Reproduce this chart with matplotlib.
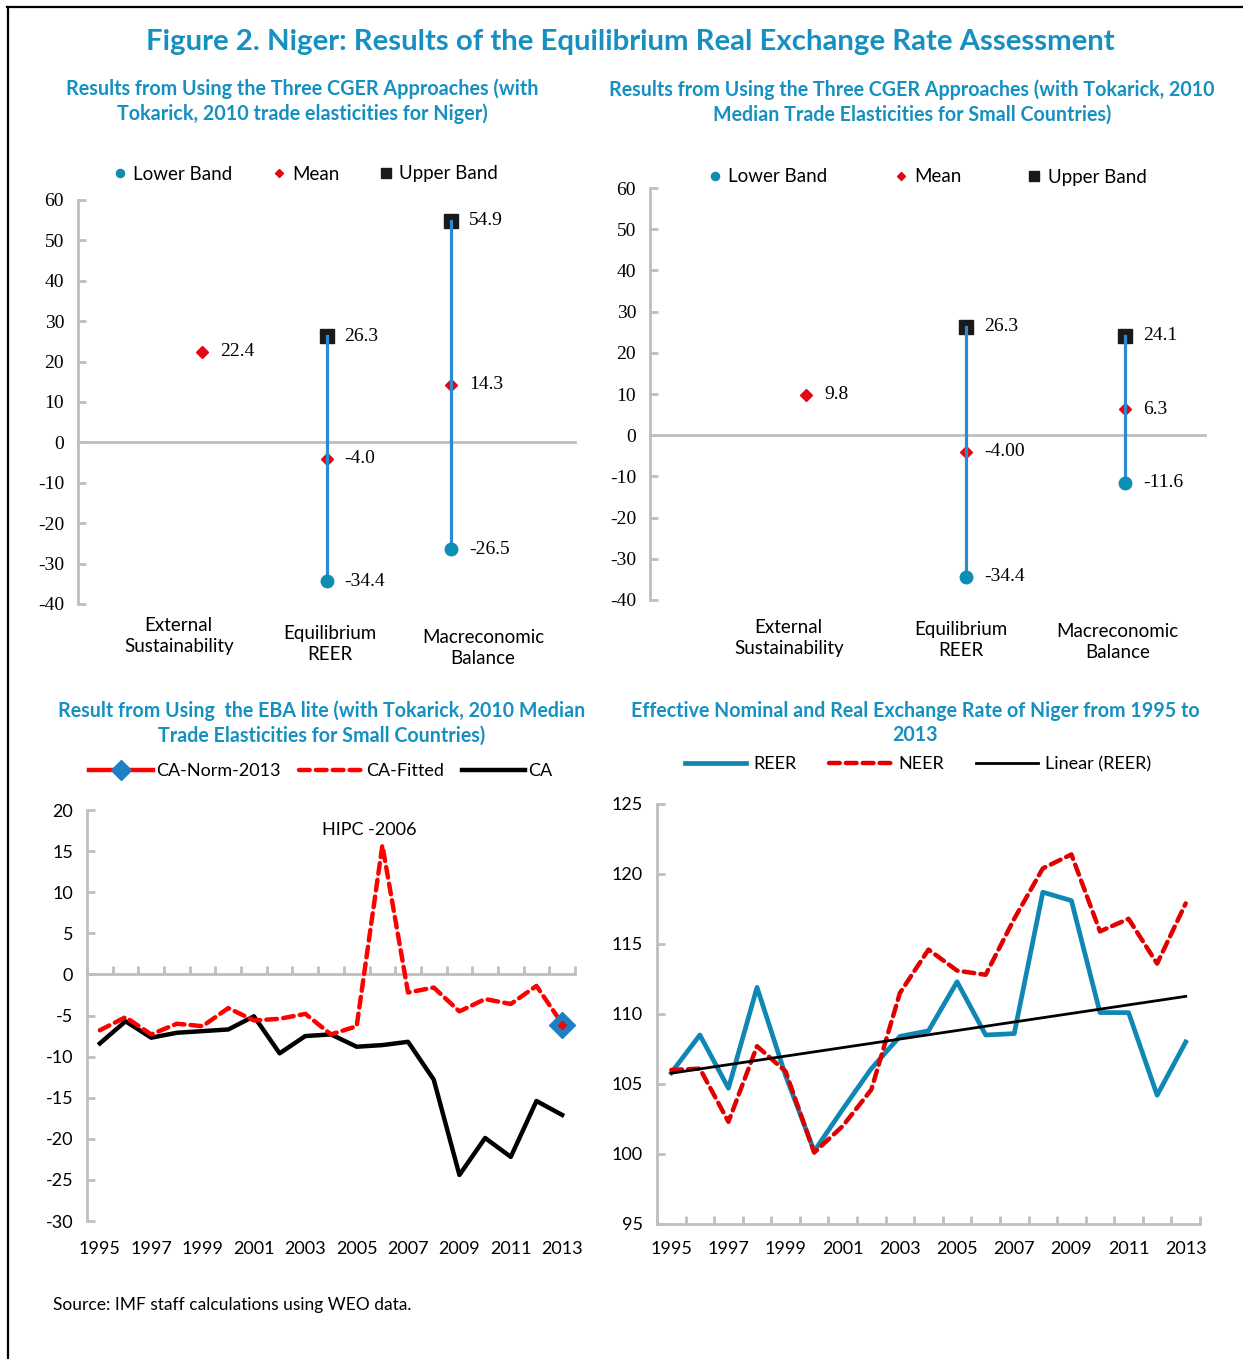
import numpy as np
import matplotlib.pyplot as plt
from matplotlib.lines import Line2D

# ---- data ----
categories = ['External\nSustainability', 'Equilibrium\nREER', 'Macreconomic\nBalance']

# panel 1: CGER with Tokarick (2010) elasticities for Niger
p1_lower = [np.nan, -34.4, -26.5]
p1_mean = [22.4, -4.0, 14.3]
p1_upper = [np.nan, 26.3, 54.9]
p1_mean_txt = ['22.4', '-4.0', '14.3']

# panel 2: CGER with median elasticities for small countries
p2_lower = [np.nan, -34.4, -11.6]
p2_mean = [9.8, -4.00, 6.3]
p2_upper = [np.nan, 26.3, 24.1]
p2_mean_txt = ['9.8', '-4.00', '6.3']

years = list(range(1995, 2014))

# panel 3: EBA lite
ca = [-8.4, -5.7, -7.7, -7.1, -6.9, -6.7, -5.1, -9.6, -7.5, -7.3,
      -8.8, -8.6, -8.2, -12.8, -24.4, -19.9, -22.2, -15.4, -17.1]
ca_fitted = [-6.8, -5.2, -7.3, -6.0, -6.3, -4.1, -5.6, -5.4, -4.8, -7.3,
             -6.3, 15.7, -2.2, -1.6, -4.5, -3.0, -3.6, -1.4, -6.0]
ca_norm_year = 2013
ca_norm = -6.2

# panel 4: NEER / REER
reer = [105.8, 108.5, 104.7, 111.9, 105.6, 100.2, 103.2, 106.1, 108.4, 108.8,
        112.3, 108.5, 108.6, 118.7, 118.1, 110.1, 110.1, 104.2, 108.0]
neer = [106.0, 106.1, 102.3, 107.7, 105.9, 100.1, 102.0, 104.6, 111.5, 114.6,
        113.1, 112.8, 116.8, 120.4, 121.4, 115.9, 116.8, 113.6, 117.9]

TITLE = '#1690C0'
GRID = '#BFBFBF'
BAND = '#2B8AD2'
LOWC = '#0E8DB3'
RED = '#E30613'

W, H = 1243, 1359
fig = plt.figure(figsize=(W / 100, H / 100), dpi=100)
plt.rcParams['font.family'] = ['Lato', 'DejaVu Sans']
plt.rcParams['axes.unicode_minus'] = False


def box(l, r, t, b):
    return [l / W, 1 - b / H, (r - l) / W, (b - t) / H]


def style_axis(ax):
    for s in ['top', 'right']:
        ax.spines[s].set_visible(False)
    for s in ['left', 'bottom']:
        ax.spines[s].set_color(GRID)
        ax.spines[s].set_linewidth(2)
    ax.tick_params(axis='y', direction='in', length=6, width=2, color=GRID,
                   labelsize=13, pad=10)


def band_panel(ax, lower, mean, upper, mean_txt, xlim):
    x = np.arange(len(categories))
    style_axis(ax)
    ax.spines['bottom'].set_position(('data', 0))
    ax.tick_params(axis='x', length=0, labelbottom=False)
    ax.set_xlim(*xlim)
    ax.set_ylim(-40, 60)
    ax.set_yticks(range(-40, 61, 10))
    for lab in ax.get_yticklabels():
        lab.set_family('Liberation Serif')
        lab.set_fontsize(14)
    for i in x:
        if not np.isnan(lower[i]):
            ax.plot([i, i], [lower[i], upper[i]], color=BAND, lw=2.3, zorder=4)
    ax.plot(x, lower, 'o', color=LOWC, ms=9, ls='none', zorder=5, label='Lower Band')
    ax.plot(x, mean, 'D', color=RED, ms=6, ls='none', zorder=3, label='Mean')
    ax.plot(x, upper, 's', color='#1A1A1A', ms=10, ls='none', zorder=3, label='Upper Band')
    serif = dict(family='Liberation Serif', fontsize=14, va='center', ha='left',
                 textcoords='offset points')
    for i in x:
        ax.annotate(mean_txt[i], (i, mean[i]), xytext=(13, 0), **serif)
        if not np.isnan(lower[i]):
            ax.annotate(f'{lower[i]:.1f}', (i, lower[i]), xytext=(13, 0), **serif)
            ax.annotate(f'{upper[i]:.1f}', (i, upper[i]), xytext=(13, 0), **serif)


# ---- panel 1 ----
ax1 = fig.add_axes(box(78, 575, 200, 604))
band_panel(ax1, p1_lower, p1_mean, p1_upper, p1_mean_txt, (-1, 3))
for xc, yc, lab in zip([-0.19, 1.03, 2.26], [-0.079, -0.099, -0.109], categories):
    ax1.text(xc, yc, lab, transform=ax1.get_xaxis_transform(), ha='center',
             va='center', fontsize=13.5, linespacing=1.3)
ax1.legend(loc='center', bbox_to_anchor=(306 / W, 1 - 174 / H), bbox_transform=fig.transFigure,
           ncol=3, frameon=False, fontsize=13.5, markerscale=0.65, handlelength=0.6,
           handletextpad=0.4, columnspacing=2.2)
fig.text(302 / W, 1 - 101 / H,
         'Results from Using the Three CGER Approaches (with\nTokarick, 2010 trade elasticities for Niger)',
         ha='center', va='center', fontsize=14.2, fontweight='bold', color=TITLE, linespacing=1.25)

# ---- panel 2 ----
ax2 = fig.add_axes(box(650, 1205, 188, 600))
band_panel(ax2, p2_lower, p2_mean, p2_upper, p2_mean_txt, (-0.98, 2.5))
for xc, yc, lab in zip([-0.11, 0.97, 1.95], [-0.092, -0.097, -0.102], categories):
    ax2.text(xc, yc, lab, transform=ax2.get_xaxis_transform(), ha='center',
             va='center', fontsize=13.5, linespacing=1.3)
ax2.legend(loc='center', bbox_to_anchor=(928 / W, 1 - 177 / H), bbox_transform=fig.transFigure,
           ncol=3, frameon=False, fontsize=13.5, markerscale=0.65, handlelength=0.6,
           handletextpad=0.4, columnspacing=3.6)
fig.text(912 / W, 1 - 102 / H,
         'Results from Using the Three CGER Approaches (with Tokarick, 2010\nMedian Trade Elasticities for Small Countries)',
         ha='center', va='center', fontsize=14.1, fontweight='bold', color=TITLE, linespacing=1.25)

# ---- panel 3 ----
ax3 = fig.add_axes(box(87, 575, 810, 1221))
style_axis(ax3)
ax3.spines['bottom'].set_position(('data', 0))
ax3.plot(years, ca, color='black', lw=3.2, label='CA', zorder=3)
ax3.plot(years, ca_fitted, color='#FF0000', lw=3.2, ls=(0, (2.4, 1.4)), label='CA-Fitted',
         zorder=4, dash_capstyle='round')
ax3.plot([ca_norm_year], [ca_norm], color='#FF0000', lw=3.2, marker='D', ms=13,
         mfc='#1F7FC4', mec='#1F7FC4', label='CA-Norm-2013', zorder=5)
ax3.plot([ca_norm_year], [ca_norm], 'D', color='#FF0000', ms=4, zorder=6)
ax3.set_xlim(1994.5, 2013.5)
ax3.set_ylim(-30, 20)
ax3.set_yticks(range(-30, 21, 5))
ax3.set_xticks([])
ax3.set_xticks(np.arange(1994.5, 2014, 1), minor=True)
ax3.tick_params(axis='x', which='minor', direction='in', length=6, width=2, color=GRID)
for yr in years[::2]:
    ax3.text(yr, -0.068, str(yr), transform=ax3.get_xaxis_transform(),
             ha='center', va='center', fontsize=13)
ax3.text(2005.5, 17.6, 'HIPC -2006', ha='center', va='center', fontsize=13)
h3, l3 = ax3.get_legend_handles_labels()
ax3.legend(h3[::-1], l3[::-1], loc='center', bbox_to_anchor=(321 / W, 1 - 771 / H),
           bbox_transform=fig.transFigure, ncol=3, frameon=False, fontsize=13,
           handlelength=3.5, handletextpad=0.2, columnspacing=1.0, markerscale=0.75)
fig.text(322 / W, 1 - 723 / H,
         'Result from Using  the EBA lite (with Tokarick, 2010 Median\nTrade Elasticities for Small Countries)',
         ha='center', va='center', fontsize=14.1, fontweight='bold', color=TITLE, linespacing=1.25)

# ---- panel 4 ----
ax4 = fig.add_axes(box(657, 1200, 804, 1224))
style_axis(ax4)
trend = np.polyval(np.polyfit(years, reer, 1), years)
ax4.plot(years, reer, color='#0F87B5', lw=3.4, label='REER', zorder=3)
ax4.plot(years, neer, color='#E00000', lw=3.2, ls=(0, (2.4, 1.4)), label='NEER', zorder=4,
         dash_capstyle='round')
ax4.plot(years, trend, color='black', lw=2, label='Linear (REER)', zorder=5)
ax4.set_xlim(1994.5, 2013.5)
ax4.set_ylim(95, 125)
ax4.set_yticks(range(95, 126, 5))
ax4.set_xticks(years[::2])
ax4.set_xticks(np.arange(1994.5, 2014, 1), minor=True)
ax4.tick_params(axis='x', which='major', length=0, labelsize=13, pad=12)
ax4.tick_params(axis='x', which='minor', direction='in', length=6, width=2, color=GRID)
ax4.legend(loc='center', bbox_to_anchor=(918 / W, 1 - 764 / H), bbox_transform=fig.transFigure,
           ncol=3, frameon=False, fontsize=13, handlelength=3.4, handletextpad=0.4,
           columnspacing=1.8)
fig.text(915 / W, 1 - 723 / H,
         'Effective Nominal and Real Exchange Rate of Niger from 1995 to\n2013',
         ha='center', va='center', fontsize=14.1, fontweight='bold', color=TITLE, linespacing=1.25)

# ---- figure title, source, frame ----
fig.text(630 / W, 1 - 42 / H,
         'Figure 2. Niger: Results of the Equilibrium Real Exchange Rate Assessment',
         ha='center', va='center', fontsize=21.2, fontweight='bold', color=TITLE)
fig.text(53 / W, 1 - 1305 / H, 'Source: IMF staff calculations using WEO data.',
         ha='left', va='center', fontsize=12.5)
fig.add_artist(Line2D([7 / W, 1], [1 - 7 / H, 1 - 7 / H], color='black', lw=1.6))
fig.add_artist(Line2D([8 / W, 8 / W], [0, 1 - 7 / H], color='black', lw=1.6))

fig.savefig('out.png', dpi=100)
